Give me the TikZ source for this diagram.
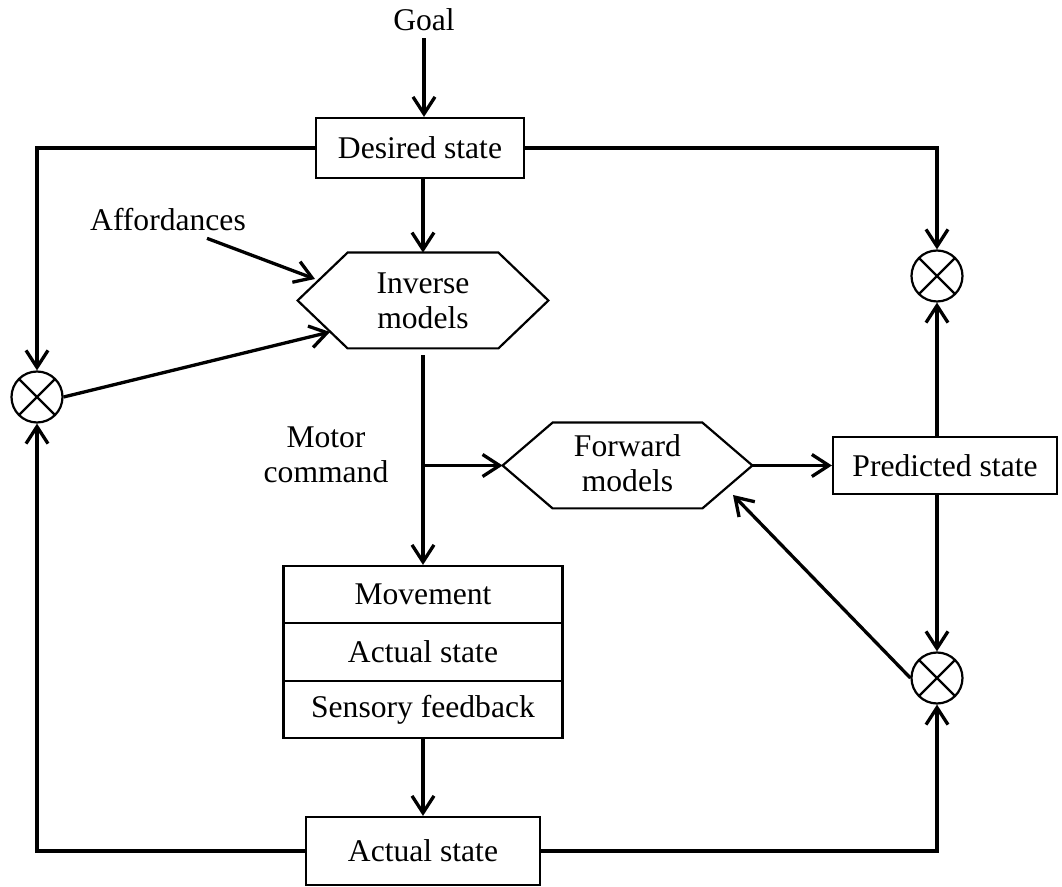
\documentclass[tikz,border=0pt]{standalone}
\usepackage{fontspec}
\setmainfont{Liberation Serif}
\usetikzlibrary{arrows.meta,calc}
\begin{document}
\begin{tikzpicture}[x=0.5pt,y=-0.5pt,
  every node/.style={font=\fontsize{15.8}{17.5}\selectfont},
  box/.style={draw, line width=1.1pt, inner sep=0pt, align=center},
  conn/.style={line width=1.65pt},
  arr/.style={conn, -{Straight Barb[length=8.5pt,width=11pt,line width=1.65pt]}},
  mult/.style={circle, draw, line width=1.1pt, minimum size=25.5pt, inner sep=0pt,
    path picture={\draw[line width=1.1pt]
      (path picture bounding box.north west) -- (path picture bounding box.south east)
      (path picture bounding box.north east) -- (path picture bounding box.south west);}},
  hexnode/.style={inner sep=0pt, align=center},
  hexline/.style={line width=1.1pt}
]
\useasboundingbox (0,0) rectangle (1062,887);

% text labels
\node (goal) at (424,20) {Goal};
\node (aff) at (168,220) {Affordances};
\node[align=center] (mc) at (326,455) {Motor\\command};

% boxes
\node[box, minimum width=104pt, minimum height=30pt] (des) at (420,148) {Desired state};
\node[box, minimum width=112pt, minimum height=28.5pt] (pred) at (945,465.5) {Predicted state};
\node[box, minimum width=139.5pt, minimum height=28.67pt] (mv) at (423,594.67) {Movement};
\node[box, minimum width=139.5pt, minimum height=28.67pt] (as) at (423,652) {Actual state};
\node[box, minimum width=139.5pt, minimum height=28.67pt] (sf) at (423,709.33) {Sensory feedback};
\node[box, minimum width=117pt, minimum height=34pt] (act) at (423,851) {Actual state};

% model hexagons
\node[hexnode, minimum width=125pt, minimum height=47.5pt] (inv) at (423,300.5) {Inverse\\models};
\node[hexnode, minimum width=124.5pt, minimum height=42.5pt, text depth=2pt] (fwd) at (627.5,465.5) {Forward\\models};
\foreach \h in {inv,fwd}{
  \draw[hexline] (\h.west) -- ([xshift=25pt]\h.north west) -- ([xshift=-25pt]\h.north east)
    -- (\h.east) -- ([xshift=-25pt]\h.south east) -- ([xshift=25pt]\h.south west) -- cycle;
}

% comparators
\node[mult] (lc) at (37,397) {};
\node[mult] (rt) at (937,276) {};
\node[mult] (rb) at (937,678) {};

% arrow ends on the hexagon sides
\coordinate (affTip) at (315,279);
\coordinate (invTip) at (330,332);
\coordinate (fwdTip) at (733,495);
\coordinate (br) at (inv.south |- fwd.west);

% connectors
\draw[arr] (goal.south) -- (goal.south |- des.north);
\draw[arr] (inv.north |- des.south) -- (inv.north);
\draw[arr] (des.west) -| (lc.north);
\draw[arr] (des.east) -| (rt.north);
\draw[arr] ([xshift=19.5pt]aff.south) -- (affTip);
\draw[arr] (lc.east) -- (invTip);
\draw[arr] ([yshift=-3.5pt]inv.south) -- (mv.north);
\draw[arr] (br) -- (fwd.west);
\draw[arr] (fwd.east) -- (pred.west);
\draw[arr] (rt.south |- pred.north) -- (rt.south);
\draw[arr] (rb.north |- pred.south) -- (rb.north);
\draw[arr] (rb.west) -- (fwdTip);
\draw[arr] (sf.south) -- (act.north);
\draw[arr] (act.west) -| (lc.south);
\draw[arr] (act.east) -| (rb.south);
\end{tikzpicture}
\end{document}
